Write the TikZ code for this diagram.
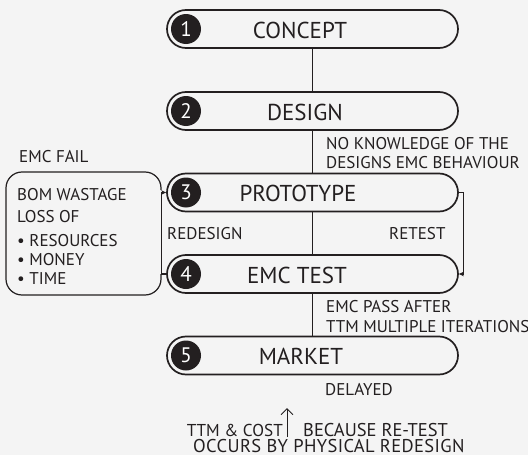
\documentclass[tikz,border=0pt]{standalone}
\usepackage{fontspec}
\setmainfont{PT Sans}
\usetikzlibrary{arrows.meta}
\definecolor{ink}{HTML}{231F20}
\definecolor{bg}{HTML}{F4F4F4}
\begin{document}
\begin{tikzpicture}[x=1pt,y=-1pt,
 pill/.style={draw=ink, line width=1.7pt, rounded corners=19pt, minimum width=291pt, minimum height=38pt, inner sep=0pt},
 badge/.style={circle, fill=ink, minimum size=30pt, inner sep=0pt, text=white, font=\fontsize{21}{21}\selectfont},
 big/.style={text=ink, font=\fontsize{23}{23}\selectfont, inner sep=0pt, anchor=base},
 small/.style={text=ink, font=\fontsize{17}{17}\selectfont, inner sep=0pt, anchor=base west, text height=12pt, text depth=0pt},
 note/.style={small, font=\fontsize{18.5}{18.5}\selectfont, text height=12.5pt},
 conn/.style={draw=ink, line width=1.2pt},
 tip/.style={-{Stealth[length=5pt,width=4.5pt]}}
]
\fill[bg] (0,0) rectangle (528,455);
\useasboundingbox (0,0) rectangle (528,455);

% pills
\node[pill] (p1) at (312.5,29) {};
\node[pill] (p2) at (312.5,111) {};
\node[pill] (p3) at (312.5,192.5) {};
\node[pill] (p4) at (312.5,274) {};
\node[pill] (p5) at (312.5,355.5) {};

\node[badge] (b1) at (186,29) {1};
\node[badge] (b2) at (186,111) {2};
\node[badge] (b3) at (186,192.5) {3};
\node[badge] (b4) at (186,274) {4};
\node[badge] (b5) at (186,355.5) {5};

\node[big] (t1) at (300,38) {CONCEPT};
\node[big] (t2) at (305,120) {DESIGN};
\node[big] (t3) at (298,201.5) {PROTOTYPE};
\node[big] (t4) at (297,283) {EMC TEST};
\node[big] (t5) at (301,364.5) {MARKET};

% vertical flow
\draw[conn] (p1.south) -- (p2.north);
\draw[conn] (p2.south) -- (p3.north);
\draw[conn] (p3.south) -- (p4.north);
\draw[conn] (p4.south) -- (p5.north);

% loops
\draw[conn,tip] (p3.east) -- ++(5,0) |- (p4.east);
\draw[conn,tip] (p4.west) -- ++(-4.5,0) |- (p3.west);

% left box
\draw[ink, line width=1.2pt, rounded corners=16pt] (161,190) -- (161,172) -- (6,172) -- (6,295) -- (161,295) -- (161,274);

% texts
\node[small] (emcfail) at (19,162) {EMC FAIL};
\node[small] (bom) at (17,200) {BOM WASTAGE};
\node[small] (loss) at (17,222) {LOSS OF};
\node[small] (res) at (17,246) {• RESOURCES};
\node[small] (mon) at (17,265) {• MONEY};
\node[small] (tim) at (17,284) {• TIME};

\node[small] (nok1) at (326,149) {NO KNOWLEDGE OF THE};
\node[small] (nok2) at (326,168) {DESIGNS EMC BEHAVIOUR};
\node[small] (redes) at (167,239) {REDESIGN};
\node[small] (retest) at (389,239) {RETEST};
\node[small] (pass1) at (326,312) {EMC PASS AFTER};
\node[small] (pass2) at (326,332) {TTM MULTIPLE ITERATIONS};
\node[small] (delay) at (325,395) {DELAYED};
\node[note, anchor=base east, font=\fontsize{17.2}{17.2}\selectfont] (ttm) at (283,436) {TTM \& COST};
\node[note] (because) at (303,436) {BECAUSE RE-TEST};
\node[note] (occurs) at (193,452.5) {\addfontfeature{LetterSpace=2}OCCURS BY PHYSICAL REDESIGN};

\coordinate (ua) at (287,437);
\coordinate (ub) at (287,408);
\draw[ink, line width=1pt, -{Straight Barb[length=6pt,width=12pt]}] (ua) -- (ub);
\end{tikzpicture}
\end{document}
